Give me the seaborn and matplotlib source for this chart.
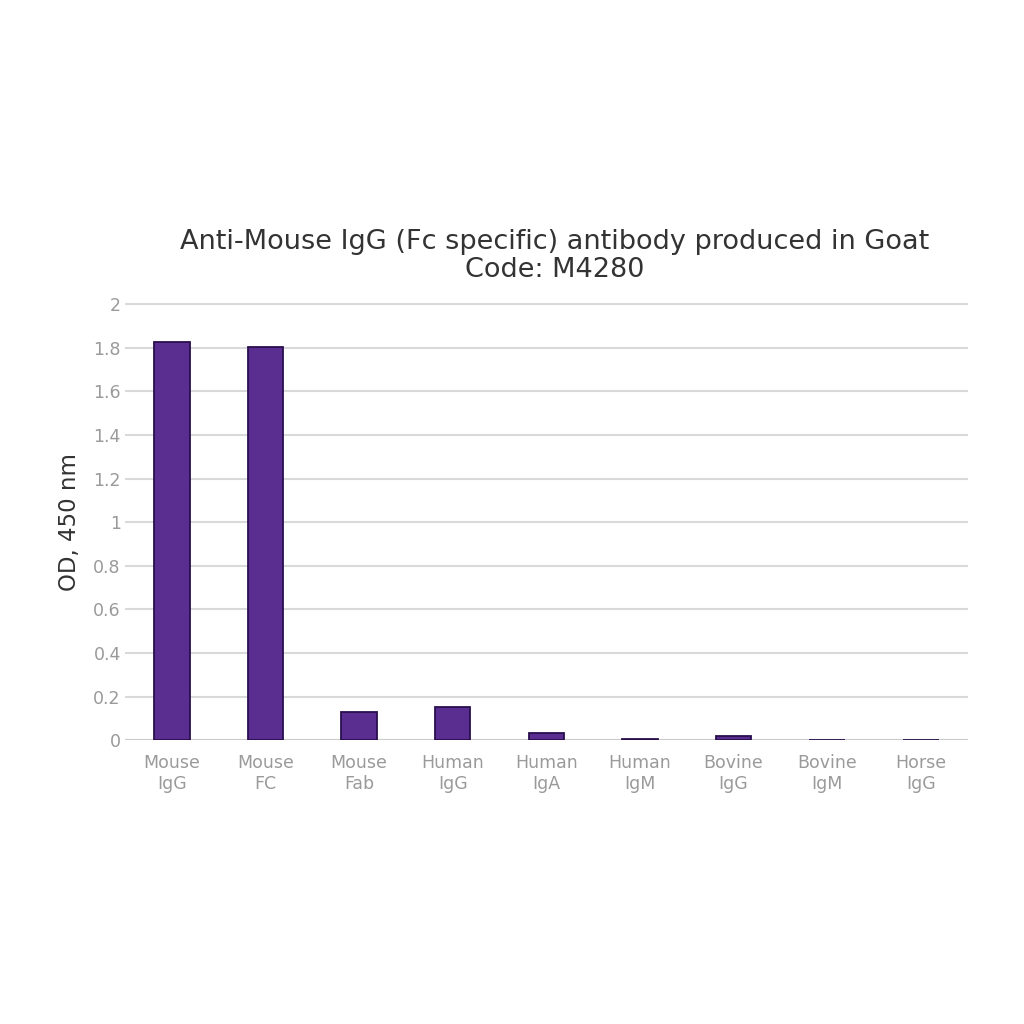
import matplotlib
matplotlib.use('Agg')
import matplotlib.pyplot as plt
import seaborn as sns
import pandas as pd

samples = ['Mouse\nIgG', 'Mouse\nFC', 'Mouse\nFab', 'Human\nIgG', 'Human\nIgA',
           'Human\nIgM', 'Bovine\nIgG', 'Bovine\nIgM', 'Horse\nIgG']
od_values = [1.825, 1.805, 0.13, 0.155, 0.035, 0.005, 0.022, 0.0, 0.0]
y_ticks = [0, 0.2, 0.4, 0.6, 0.8, 1, 1.2, 1.4, 1.6, 1.8, 2]
y_tick_labels = ['0', '0.2', '0.4', '0.6', '0.8', '1', '1.2', '1.4', '1.6', '1.8', '2']

df = pd.DataFrame({'Sample': samples, 'OD': od_values})

sns.set_style('white')
plt.rcParams['font.family'] = ['DejaVu Sans']

fig = plt.figure(figsize=(10.24, 10.24), dpi=100)
ax = fig.add_axes([0.122, 0.277, 0.823, 0.427])

sns.barplot(x='Sample', y='OD', data=df, color='#5a2d91', width=0.38,
            edgecolor='#2a0f4d', linewidth=1.3, saturation=1, ax=ax, zorder=3)

ax.set_ylim(0, 2.004)
ax.set_xlim(-0.5, 8.5)
ax.set_yticks(y_ticks)
ax.set_yticklabels(y_tick_labels)
ax.yaxis.grid(True, color='#d9d9d9', linewidth=1.5, zorder=0)
ax.set_axisbelow(True)
for s in ax.spines.values():
    s.set_visible(False)
ax.axhline(0, color='#cccccc', linewidth=1.5, zorder=1)

ax.tick_params(axis='both', length=0, labelsize=12.5, labelcolor='#9a9a9a')
ax.tick_params(axis='y', pad=3)
ax.tick_params(axis='x', pad=10)
ax.set_xlabel('')
ax.set_ylabel('OD, 450 nm', fontsize=16.5, color='#333333', labelpad=9)
ax.set_title('Anti-Mouse IgG (Fc specific) antibody produced in Goat\nCode: M4280',
             fontsize=19.5, color='#333333', pad=19, linespacing=1.08, x=0.51)

fig.savefig('out.png', dpi=100, facecolor='white')
